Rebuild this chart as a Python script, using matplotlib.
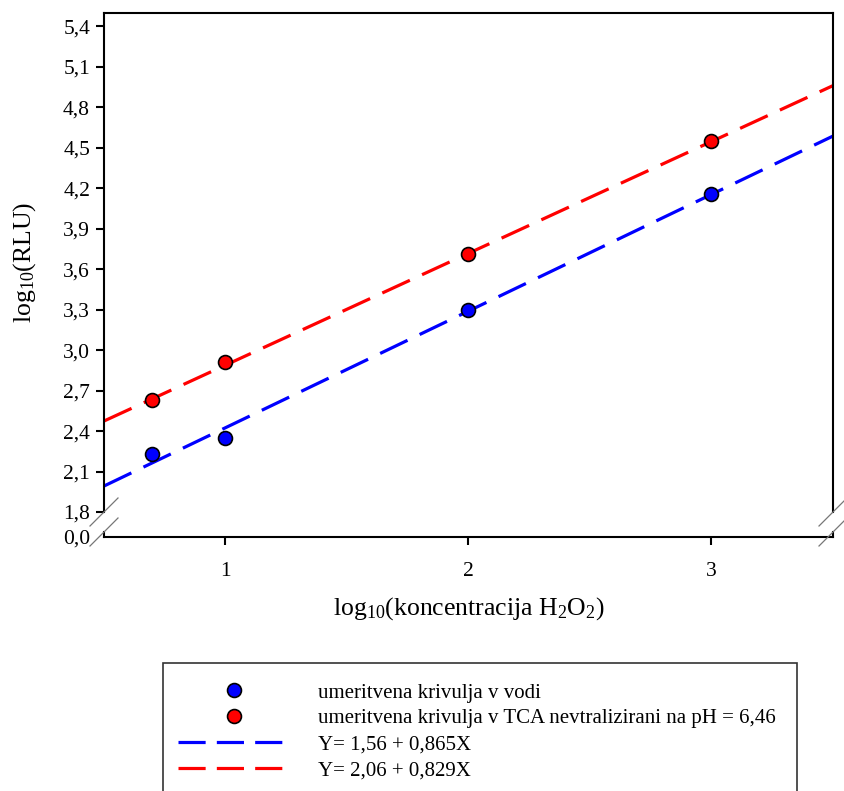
import numpy as np
import matplotlib
matplotlib.use("Agg")
from matplotlib import pyplot as plt
from matplotlib.lines import Line2D
from matplotlib.patches import Rectangle

plt.rcParams['font.family'] = ['Liberation Serif', 'DejaVu Serif']
plt.rcParams['mathtext.default'] = 'regular'

# measured points (log10 concentration vs log10 RLU)
xVoda = [0.699, 1.0, 2.0, 3.0]
yVoda = [2.23, 2.35, 3.30, 4.16]
xTca = [0.699, 1.0, 2.0, 3.0]
yTca = [2.63, 2.91, 3.71, 4.55]

# regression lines from the legend
intercepts = [1.56, 2.06]
slopes = [0.865, 0.829]

yTicks = [1.8, 2.1, 2.4, 2.7, 3.0, 3.3, 3.6, 3.9, 4.2, 4.5, 4.8, 5.1, 5.4]
yTickLabels = ['1,8', '2,1', '2,4', '2,7', '3,0', '3,3', '3,6', '3,9', '4,2', '4,5', '4,8', '5,1', '5,4']
xTicks = [1, 2, 3]
xTickLabels = ['1', '2', '3']

labels = ['umeritvena krivulja v vodi',
          'umeritvena krivulja v TCA nevtralizirani na pH = 6,46',
          'Y= 1,56 + 0,865X',
          'Y= 2,06 + 0,829X']

W, H = 845, 791
fig = plt.figure(figsize=(W / 100, H / 100), dpi=100)

def px(x0, y0, x1, y1):
    return [x0 / W, 1 - y1 / H, (x1 - x0) / W, (y1 - y0) / H]

ax = fig.add_axes(px(104, 13, 833, 512))
axLow = fig.add_axes(px(104, 532, 833, 537))

xlim = (0.5, 3.5)
blue = '#0000ff'
red = '#ff0000'
lw = 2.3
dash = (9.5, 4.2)
legDash = (8.5, 3.5)
ms = 10

xs = np.array(xlim)
ax.plot(xs, intercepts[0] + slopes[0] * xs, color=blue, lw=lw, dashes=dash)
ax.plot(xs, intercepts[1] + slopes[1] * xs, color=red, lw=lw, dashes=dash)
ax.plot(xVoda, yVoda, 'o', color=blue, mec='black', mew=1.2, ms=ms, zorder=3)
ax.plot(xTca, yTca, 'o', color=red, mec='black', mew=1.2, ms=ms, zorder=3)

ax.set_xlim(*xlim)
ax.set_ylim(1.8, 5.5)
ax.set_yticks(yTicks)
ax.set_yticklabels(yTickLabels)
ax.set_xticks([])
ax.spines['bottom'].set_visible(False)
for s in ax.spines.values():
    s.set_linewidth(1.5)
ax.tick_params(axis='y', direction='out', length=6, width=1.5, labelsize=15.5, pad=4)

axLow.set_xlim(*xlim)
axLow.set_ylim(0, 0.1)
axLow.set_yticks([0])
axLow.set_yticklabels(['0,0'])
axLow.set_xticks(xTicks)
axLow.set_xticklabels(xTickLabels)
axLow.spines['top'].set_visible(False)
for s in axLow.spines.values():
    s.set_linewidth(1.5)
axLow.tick_params(axis='y', direction='out', length=0, labelsize=15.5, pad=10)
axLow.tick_params(axis='x', direction='out', length=6, width=1.5, labelsize=15.5, pad=12)

ax.set_ylabel('log$_{10}$(RLU)', fontsize=18.5, labelpad=18)
axLow.set_xlabel('log$_{10}$(koncentracija H$_2$O$_2$)', fontsize=18.5, labelpad=10)

# axis break marks
d = 14
for xp in (104, 833):
    for yp in (512, 532):
        fig.add_artist(Line2D([(xp - d) / W, (xp + d) / W],
                              [1 - (yp + d) / H, 1 - (yp - d) / H],
                              color='#777777', lw=0.9))

# legend frame runs past the bottom edge
fig.add_artist(Rectangle((163 / W, -0.02), (797 - 163) / W, 0.02 + 1 - 663 / H,
                         transform=fig.transFigure, fill=False,
                         edgecolor='#333333', lw=1.2))

handles = [
    Line2D([], [], ls='none', marker='o', color=blue, mec='black', mew=1.2, ms=ms),
    Line2D([], [], ls='none', marker='o', color=red, mec='black', mew=1.2, ms=ms),
    Line2D([], [], color=blue, lw=lw, dashes=legDash),
    Line2D([], [], color=red, lw=lw, dashes=legDash),
]
fig.legend(handles, labels, loc='upper left',
           bbox_to_anchor=(178 / W, 1 - 683 / H), fontsize=15, frameon=False,
           handlelength=5.4, handletextpad=1.3, borderpad=0,
           labelspacing=0.3, borderaxespad=0)

fig.savefig('out.png', dpi=100)
